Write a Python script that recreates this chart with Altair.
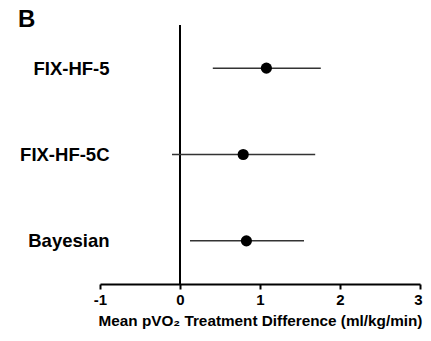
import altair as alt
import pandas as pd

studies = ["FIX-HF-5", "FIX-HF-5C", "Bayesian"]
means = [1.08, 0.79, 0.83]
lowers = [0.41, -0.10, 0.125]
uppers = [1.76, 1.69, 1.55]
x_ticks = [-1, -0.5, 0, 0.5, 1, 1.5, 2, 2.5, 3]

df = pd.DataFrame({"study": studies, "mean": means, "lo": lowers, "hi": uppers})

FONT = "Liberation Sans"

xscale = alt.Scale(domain=[-1, 3], nice=False, zero=False)
yscale = alt.Scale(type="point", domain=studies, padding=0.5)

xaxis = alt.Axis(
    values=x_ticks,
    title="Mean pVO₂ Treatment Difference (ml/kg/min)",
    titleFont=FONT, titleFontSize=15.3, titleFontWeight="bold", titleColor="black",
    titlePadding=6,
    labelFont=FONT, labelFontSize=15, labelFontWeight="bold", labelColor="black",
    labelExpr="datum.value % 1 === 0 ? (datum.value < 0 ? '-' + abs(datum.value) : '' + datum.value) : ''",
    labelPadding=3, labelFlush=False, labelOverlap=False,
    labelOffset={"condition": {"test": "datum.value === 3", "value": -2}, "value": 0},
    domainColor="black", domainWidth=2,
    tickColor="black", tickWidth=2,
    tickSize={"condition": {"test": "datum.value % 1 === 0", "value": 5}, "value": 2},
    grid=False,
)
yaxis = alt.Axis(
    title=None, domain=False, ticks=False, grid=False,
    labelFont=FONT, labelFontSize=18.5, labelFontWeight="bold", labelColor="black",
    labelPadding=0, offset=-9,
)

base = alt.Chart(df)

zero = base.mark_rule(color="black", strokeWidth=2).encode(x=alt.datum(0, scale=xscale))

bars = base.mark_rule(color="#333333", strokeWidth=1.5).encode(
    x=alt.X("lo:Q", scale=xscale, axis=xaxis),
    x2="hi:Q",
    y=alt.Y("study:N", scale=yscale, axis=yaxis, sort=studies),
)

pts = base.mark_circle(color="black", opacity=1, size=125).encode(
    x=alt.X("mean:Q", scale=xscale),
    y=alt.Y("study:N", scale=yscale, sort=studies),
)

chart = (
    alt.layer(zero, bars, pts)
    .properties(
        width=320, height=259,
        autosize=alt.AutoSizeParams(type="none"),
        padding={"left": 92, "top": 17, "right": 3, "bottom": 48},
        title=alt.TitleParams(
            "B", font=FONT, fontSize=24, fontWeight="bold", color="black",
            anchor="start", frame="group", dx=-82, offset=-8, baseline="top",
        ),
    )
    .configure_view(stroke=None)
)

chart.save("out.html", embed_options={"renderer": "svg", "actions": False})
